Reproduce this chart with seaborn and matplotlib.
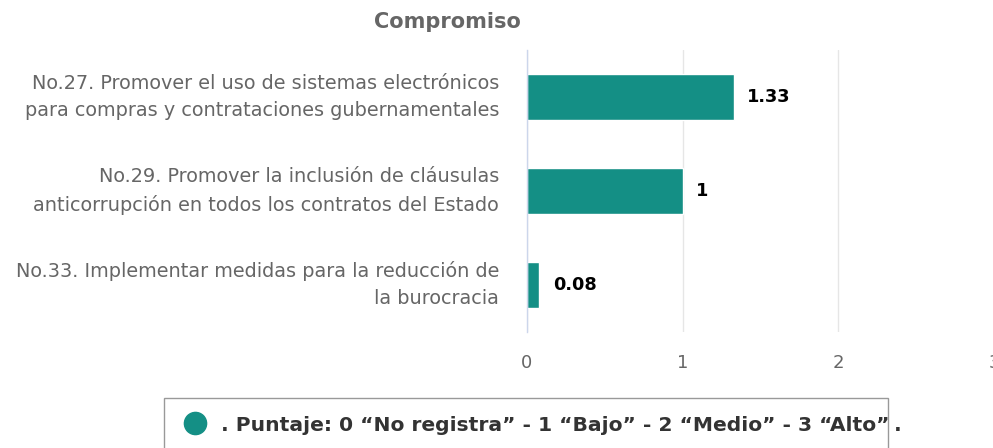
import matplotlib
matplotlib.use("Agg")
import matplotlib.pyplot as plt
import matplotlib.transforms as mtransforms
import seaborn as sns
import pandas as pd
from matplotlib.patches import Rectangle
from matplotlib.lines import Line2D

categories = [
    "No.27. Promover el uso de sistemas electrónicos\npara compras y contrataciones gubernamentales",
    "No.29. Promover la inclusión de cláusulas\nanticorrupción en todos los contratos del Estado",
    "No.33. Implementar medidas para la reducción de\nla burocracia",
]
values = [1.33, 1.0, 0.08]
value_labels = ["1.33", "1", "0.08"]
xticks = [0, 1, 2, 3]
title = "Compromiso"
legend_label = ". Puntaje: 0 “No registra” - 1 “Bajo” - 2 “Medio” - 3 “Alto”"

teal = "#148f85"
df = pd.DataFrame({"cat": categories, "val": values})

sns.set_style("white")
plt.rcParams["font.family"] = ["DejaVu Sans"]

W, H = 993, 448
fig = plt.figure(figsize=(W / 100, H / 100), dpi=100)
ax = fig.add_axes([527 / W, 1 - 332 / H, (994 - 527) / W, (332 - 50) / H])

sns.barplot(data=df, x="val", y="cat", color=teal, saturation=1, width=0.48, ax=ax, orient="h")
ax.set_xlim(0, 3)
ax.set_ylim(2.5, -0.5)
ax.set_xticks(xticks)
ax.set_xlabel("")
ax.set_ylabel("")
for s in ["top", "right", "bottom"]:
    ax.spines[s].set_visible(False)
ax.spines["left"].set_color("#ccd6eb")
ax.spines["left"].set_linewidth(1)
ax.grid(axis="x", color="#e6e6e6", linewidth=1)
ax.set_axisbelow(True)
ax.tick_params(axis="x", length=0, labelsize=13, labelcolor="#666666", pad=15.5)
ax.tick_params(axis="y", length=0, labelsize=13.9, labelcolor="#666666", pad=20)
shift = mtransforms.ScaledTranslation(0, 6.5 / 100, fig.dpi_scale_trans)
for lab in ax.get_yticklabels():
    lab.set_multialignment("right")
    lab.set_linespacing(1.55)
    lab.set_transform(lab.get_transform() + shift)
for lab in ax.get_xticklabels():
    lab.set_clip_on(False)

for i, (v, t) in enumerate(zip(values, value_labels)):
    ax.annotate(t, (v, i), xytext=(9.5, 0), textcoords="offset points",
                va="center", ha="left", fontsize=12.8, fontweight="bold", color="black")

fig.text(447 / W, 1 - 22 / H, title, ha="center", va="center", fontsize=15,
         fontweight="bold", color="#666666")

# legend box
fig.patches.append(Rectangle((164 / W, -0.05), (888 - 164) / W, (1 - 398 / H) + 0.05,
                             transform=fig.transFigure, facecolor="white",
                             edgecolor="#999999", linewidth=1))
fig.lines.append(Line2D([195 / W], [1 - 423 / H], marker="o", markersize=16,
                        color=teal, transform=fig.transFigure, linestyle="none"))
fig.text(221 / W, 1 - 425 / H, legend_label, ha="left", va="center", fontsize=14.6,
         fontweight="bold", color="#333333")
fig.text(894 / W, 1 - 425 / H, ".", ha="left", va="center", fontsize=14.6,
         fontweight="bold", color="#333333")

fig.savefig("out.png", dpi=100)
